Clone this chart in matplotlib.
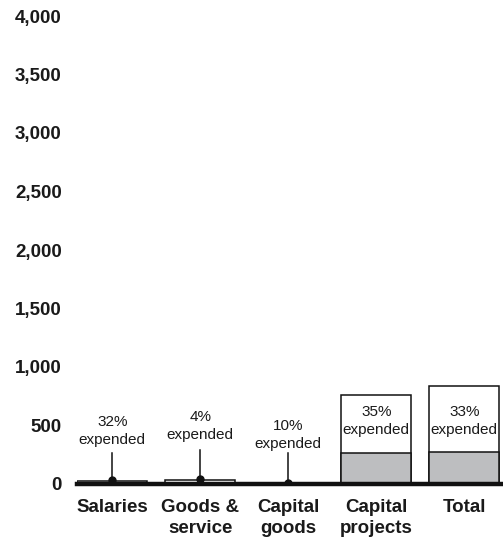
import numpy as np
import matplotlib.pyplot as plt

plt.rcParams['font.family'] = ['Liberation Sans', 'DejaVu Sans']

categories = ['Salaries', 'Goods &\nservice', 'Capital\ngoods', 'Capital\nprojects', 'Total']
budget = [28, 38, 7, 761, 838]
expended = [9.0, 1.5, 0.7, 265, 276]
pct_labels = ['32%', '4%', '10%', '35%', '33%']
yticks = [0, 500, 1000, 1500, 2000, 2500, 3000, 3500, 4000]

# where the percent notes sit (data units); first three use a leader line
note_y = [455, 498, 420, 540, 540]
leader_top = [265, 290, 262]

fig = plt.figure(figsize=(5.03, 5.39), dpi=100)
ax = fig.add_axes([77 / 503, 55 / 539, 426 / 503, 468 / 539])

x = np.arange(len(categories))
w = 0.8
ax.bar(x, budget, width=w, color='white', edgecolor='#111111', linewidth=1.1, zorder=2)
ax.bar(x, expended, width=w, color='#bdbec0', edgecolor='#111111', linewidth=1.1, zorder=3)
ax.axhline(0, color='#111111', linewidth=3.2, zorder=4, clip_on=False)

for i, (p, ny) in enumerate(zip(pct_labels, note_y)):
    ax.text(x[i], ny, p + '\nexpended', ha='center', va='center', fontsize=11,
            color='#1a1a1a', linespacing=1.35, zorder=5)
    if i < 3:
        top = budget[i] + 5
        ax.plot([x[i], x[i]], [top, leader_top[i]], color='#111111', lw=1.1, zorder=5)
        ax.plot(x[i], top, 'o', color='#111111', ms=5, zorder=6)

ax.set_xlim(-0.4, 4.44)
ax.set_ylim(0, 4000)
ax.set_yticks(yticks)
ax.set_yticklabels([f'{v:,}' for v in yticks], fontweight='bold', fontsize=13.5, color='#1a1a1a')
ax.set_xticks(x)
ax.set_xticklabels(categories, fontweight='bold', fontsize=13.5, color='#1a1a1a', linespacing=1.3)
ax.tick_params(axis='both', length=0)
ax.tick_params(axis='y', pad=11)
ax.tick_params(axis='x', pad=11)
for s in ax.spines.values():
    s.set_visible(False)

fig.savefig('out.png', dpi=100)
